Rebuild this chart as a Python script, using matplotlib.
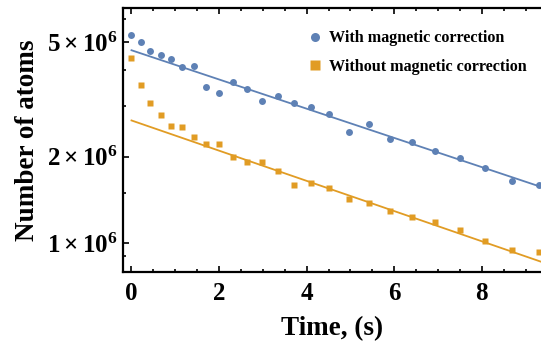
import matplotlib
matplotlib.use('Agg')
import matplotlib.pyplot as plt
import numpy as np
from matplotlib.ticker import FixedLocator, MultipleLocator, NullFormatter

BLUE = '#5E81B5'
ORANGE = '#E19C24'

# time of each shot, in s
time_s = [0.0, 0.21, 0.43, 0.67, 0.90, 1.15, 1.43, 1.71, 2.00, 2.31, 2.64, 2.98, 3.34,
          3.71, 4.10, 4.52, 4.96, 5.42, 5.90, 6.40, 6.93, 7.49, 8.07, 8.68, 9.30]

# atom numbers (in units of 1e6)
with_corr = [5.29, 5.00, 4.65, 4.51, 4.38, 4.08, 4.12, 3.49, 3.33, 3.63, 3.43, 3.11, 3.24,
             3.06, 2.97, 2.81, 2.43, 2.60, 2.30, 2.25, 2.09, 1.97, 1.82, 1.65, 1.60]
without_corr = [4.40, 3.55, 3.07, 2.78, 2.56, 2.54, 2.34, 2.21, 2.21, 2.00, 1.92, 1.91, 1.78,
                1.59, 1.62, 1.56, 1.43, 1.38, 1.29, 1.23, 1.19, 1.11, 1.02, 0.948, 0.931]

# exponential fits: amplitude (1e6), lifetime (s)
fit_with = (4.68, 8.56)
fit_without = (2.67, 8.28)

plt.rcParams['font.family'] = ['Liberation Serif', 'DejaVu Serif']
plt.rcParams['font.weight'] = 'bold'
plt.rcParams['mathtext.fontset'] = 'custom'
plt.rcParams['mathtext.rm'] = 'Liberation Serif:bold'
plt.rcParams['mathtext.it'] = 'Liberation Serif:bold'
plt.rcParams['mathtext.bf'] = 'Liberation Serif:bold'

fig = plt.figure(figsize=(5.41, 3.45), dpi=100)
ax = fig.add_axes([123 / 541, 73 / 345, 418 / 541, 264 / 345])

t = np.array(time_s)
tt = np.linspace(0, 9.4, 200)
ax.plot(tt, fit_with[0] * 1e6 * np.exp(-tt / fit_with[1]), color=BLUE, lw=1.3)
ax.plot(tt, fit_without[0] * 1e6 * np.exp(-tt / fit_without[1]), color=ORANGE, lw=1.3)
ax.plot(t, np.array(with_corr) * 1e6, 'o', color=BLUE, ms=5, mec='none',
        label='With magnetic correction')
ax.plot(t, np.array(without_corr) * 1e6, 's', color=ORANGE, ms=5, mec='none',
        label='Without magnetic correction')

ax.set_yscale('log')
ax.set_xlim(-0.194, 9.35)
ax.set_ylim(0.795e6, 6.56e6)

ax.yaxis.set_major_locator(FixedLocator([1e6, 2e6, 5e6]))
ax.set_yticklabels([r'$1\times10^{6}$', r'$2\times10^{6}$', r'$5\times10^{6}$'])
ax.yaxis.set_minor_locator(FixedLocator([0.9e6, 1.5e6, 3e6, 4e6, 6e6]))
ax.yaxis.set_minor_formatter(NullFormatter())
ax.xaxis.set_major_locator(MultipleLocator(2))
ax.xaxis.set_minor_locator(MultipleLocator(0.5))

ax.tick_params(which='both', direction='in', top=True, right=False, width=1.2)
ax.tick_params(which='major', length=4.5)
ax.tick_params(which='minor', length=2.5)
ax.tick_params(axis='x', pad=7, labelsize=18)
ax.tick_params(axis='y', pad=4, labelsize=18)
for side in ['left', 'bottom', 'top']:
    ax.spines[side].set_linewidth(1.6)
ax.spines['right'].set_visible(False)

ax.set_xlabel('Time, (s)', fontsize=19.5, fontweight='bold', labelpad=8)
ax.set_ylabel('Number of atoms', fontsize=19.5, fontweight='bold', labelpad=5)

ax.legend(loc='upper left', bbox_to_anchor=(0.405, 0.97), frameon=False,
          handletextpad=0.35, labelspacing=0.76, markerscale=1.3, handlelength=1.0,
          prop={'weight': 'bold', 'size': 11.6})

fig.savefig('out.png', dpi=100)
